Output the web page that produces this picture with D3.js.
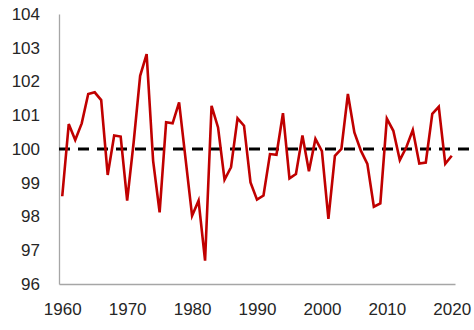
<!DOCTYPE html>
<html>
<head>
<meta charset="utf-8">
<script src="https://cdn.jsdelivr.net/npm/d3@7/dist/d3.min.js"></script>
<style>
  html, body { margin: 0; padding: 0; background: #fff; }
  svg { display: block; }
  .tick text { font-family: "Liberation Sans", Arial, sans-serif; font-size: 17px; fill: #262626; }
</style>
</head>
<body>
<div id="chart"></div>
<script>
// yearly index values, 1960-2020
var years = d3.range(1960, 2021);
var values = [
  98.6, 100.74, 100.27, 100.76, 101.63, 101.68, 101.45, 99.23, 100.4, 100.37,
  98.47, 100.2, 102.17, 102.81, 99.65, 98.12, 100.79, 100.76, 101.38, 99.7,
  98.02, 98.47, 96.69, 101.28, 100.64, 99.09, 99.46, 100.91, 100.69, 99.01,
  98.5, 98.62, 99.85, 99.83, 101.06, 99.13, 99.26, 100.4, 99.34, 100.3,
  99.94, 97.93, 99.8, 100.0, 101.63, 100.49, 99.95, 99.56, 98.29, 98.39,
  100.9, 100.54, 99.67, 100.05, 100.56, 99.57, 99.6, 101.04, 101.25, 99.56,
  99.8
];
var yTicks = [96, 97, 98, 99, 100, 101, 102, 103, 104];
var xTicks = [1960, 1970, 1980, 1990, 2000, 2010, 2020];
var baseline = 100;

(function(){
    var w = 474, h = 330,
        plotLeft = 59, plotRight = 455, plotTop = 14, plotBottom = 284;

    var svg = d3.select('#chart').append('svg')
        .attr('width', w)
        .attr('height', h);

    var x = d3.scaleLinear().domain([1959.5, 2020.5]).range([plotLeft, plotRight]);
    var y = d3.scaleLinear().domain([96, 104]).range([plotBottom, plotTop]);

    // y axis
    var yAxis = svg.append('g')
        .attr('transform', 'translate(' + plotLeft + ',0)')
        .call(d3.axisLeft(y).tickValues(yTicks).tickSize(0).tickPadding(19).tickFormat(d3.format('d')));
    yAxis.select('.domain').attr('stroke', '#a6a6a6').attr('stroke-width', 1.3);

    // x axis
    var xAxis = svg.append('g')
        .attr('transform', 'translate(0,' + plotBottom + ')')
        .call(d3.axisBottom(x).tickValues(xTicks).tickSize(0).tickPadding(19).tickFormat(d3.format('d')));
    xAxis.select('.domain').attr('stroke', '#a6a6a6').attr('stroke-width', 1.3);

    // dashed reference line at 100
    svg.append('line')
        .attr('x1', plotLeft)
        .attr('x2', plotRight + 15)
        .attr('y1', y(baseline))
        .attr('y2', y(baseline))
        .attr('stroke', '#000')
        .attr('stroke-width', 3)
        .attr('stroke-dasharray', '11,8');

    var line = d3.line()
        .x(function(d, i){ return x(years[i]); })
        .y(function(d){ return y(d); });

    svg.append('path')
        .datum(values)
        .attr('d', line)
        .attr('fill', 'none')
        .attr('stroke', '#c00000')
        .attr('stroke-width', 2.6)
        .attr('stroke-linejoin', 'miter');
})();
</script>
</body>
</html>
